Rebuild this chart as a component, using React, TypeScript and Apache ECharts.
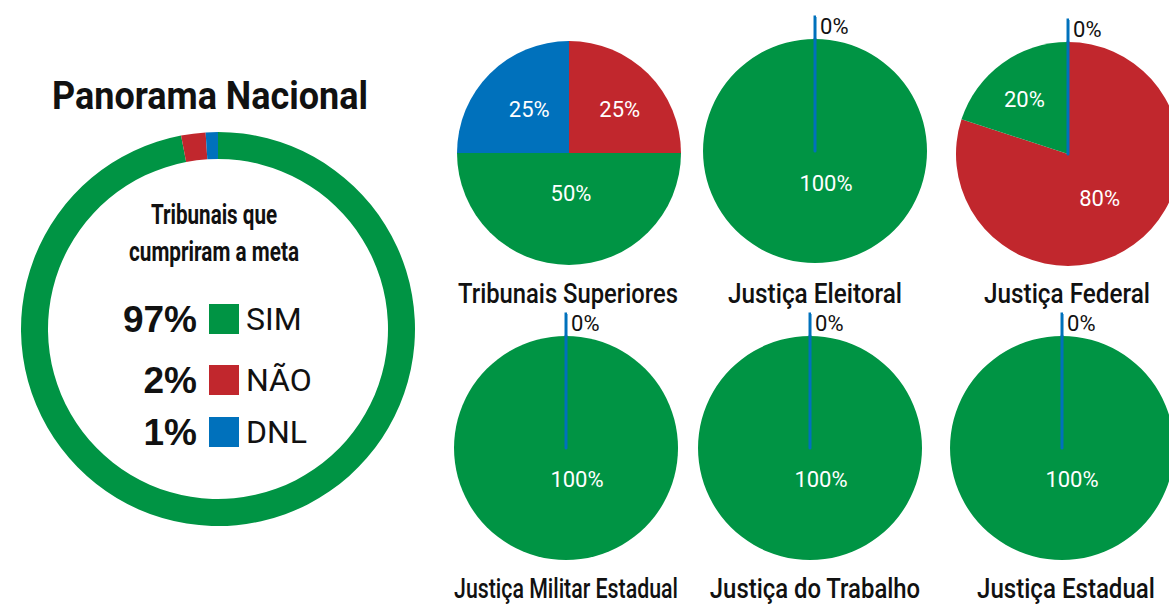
import React, { useEffect, useRef } from 'react';
import * as echarts from 'echarts';

// ---------- data ----------
const CHART_TITLE = 'Panorama Nacional';
const LEGEND_HEADING = ['Tribunais que', 'cumpriram a meta'];
const NATIONAL_NAMES = ['SIM', 'NÃO', 'DNL'];
const NATIONAL_PCT = [97, 2, 1];

const GROUPS = [
  'Tribunais Superiores',
  'Justiça Eleitoral',
  'Justiça Federal',
  'Justiça Militar Estadual',
  'Justiça do Trabalho',
  'Justiça Estadual',
];
const NAO_PCT = [25, 0, 80, 0, 0, 0];
const SIM_PCT = [50, 100, 20, 100, 100, 100];
const DNL_PCT = [25, 0, 0, 0, 0, 0];

// ---------- layout / style ----------
const COLORS: Record<string, string> = { SIM: '#009444', 'NÃO': '#C1272D', DNL: '#0071BC' };
const FONT = "Roboto, 'Liberation Sans', Arial, sans-serif";
const WIDE = "'Liberation Sans', Arial, sans-serif";
const TEXT = '#111111';

const PIE_CENTERS = [
  [569, 153], [815, 151], [1068, 154],
  [566, 448], [810, 448], [1062, 448],
];
const PIE_R = 112;
const TITLE_POS = [
  [568, 293], [815, 293], [1067, 293],
  [566, 588], [815, 588], [1066, 588],
];
// rendered widths of the condensed titles in the reference
const TITLE_WIDTHS = [220, 174, 166, 224, 211, 178];
const HEADING_WIDTH = 316;
const LEGEND_HEADING_WIDTHS = [126, 170];
// label nudges per pie, for [NÃO, SIM, DNL]
const LABEL_NUDGE = [
  [[9, -2], [2, -19], [2, -2]],
  [[0, 0], [11, -27], [0, 0]],
  [[-3, -3], [-9, -7], [0, 0]],
  [[0, 0], [11, -28], [0, 0]],
  [[0, 0], [11, -28], [0, 0]],
  [[0, 0], [10, -28], [0, 0]],
];
const LEGEND_ROWS = [318, 379, 431];

let measureCtx: CanvasRenderingContext2D | null = null;
function measure(text: string, size: number, weight: string) {
  if (!measureCtx) measureCtx = document.createElement('canvas').getContext('2d');
  if (!measureCtx) return 1;
  measureCtx.font = `${weight} ${size}px ${FONT}`;
  return measureCtx.measureText(text).width || 1;
}

function condensedText(text: string, x: number, y: number, size: number, weight: string, width: number) {
  const sx = width / measure(text, size, weight);
  return {
    type: 'text',
    x,
    y,
    scaleX: sx,
    scaleY: 1,
    style: {
      text,
      fill: TEXT,
      fontSize: size,
      fontWeight: weight,
      fontFamily: FONT,
      align: 'center',
      verticalAlign: 'middle',
    },
  };
}

function buildOption() {
  const donut = {
    type: 'pie',
    name: CHART_TITLE,
    center: [218, 329],
    radius: [170, 197],
    startAngle: 90,
    clockwise: true,
    silent: true,
    label: { show: false },
    labelLine: { show: false },
    data: NATIONAL_NAMES.map((n, i) => ({
      name: n,
      value: NATIONAL_PCT[i],
      itemStyle: { color: COLORS[n] },
    })),
  };

  const pieNames = ['NÃO', 'SIM', 'DNL'];
  const pies = GROUPS.map((g, i) => {
    const vals = [NAO_PCT[i], SIM_PCT[i], DNL_PCT[i]];
    return {
      type: 'pie',
      name: g,
      center: PIE_CENTERS[i],
      radius: PIE_R,
      startAngle: 89.99,
      clockwise: true,
      silent: true,
      avoidLabelOverlap: false,
      label: { formatter: (p: any) => `${p.value}%` },
      labelLine: { show: false },
      data: vals.map((v, k) => {
        const name = pieNames[k];
        if (v === 0 && name === 'DNL') {
          return {
            name,
            value: v,
            itemStyle: { color: COLORS.DNL, borderColor: COLORS.DNL, borderWidth: 3 },
            label: {
              show: true,
              position: 'outside',
              color: TEXT,
              fontSize: 22,
              fontFamily: FONT,
              distanceToLabelLine: 4,
              offset: [0, 9],
            },
            labelLine: {
              show: true,
              length: 22,
              length2: 1,
              lineStyle: { color: COLORS.DNL, width: 3 },
            },
          };
        }
        if (v === 0) {
          return {
            name,
            value: v,
            itemStyle: { color: COLORS[name], borderWidth: 0 },
            label: { show: false },
            labelLine: { show: false },
          };
        }
        return {
          name,
          value: v,
          itemStyle: { color: COLORS[name], borderWidth: 0 },
          label: {
            show: true,
            position: 'inside',
            color: '#ffffff',
            fontSize: 22,
            fontFamily: FONT,
            offset: LABEL_NUDGE[i][k],
          },
          labelLine: { show: false },
        };
      }),
    };
  });

  const graphics: any[] = [];
  graphics.push(condensedText(CHART_TITLE, 210, 95, 39, 'bold', HEADING_WIDTH));
  LEGEND_HEADING.forEach((t, i) => {
    graphics.push(condensedText(t, 214, 214 + i * 37, 28, 'bold', LEGEND_HEADING_WIDTHS[i]));
  });
  NATIONAL_PCT.forEach((v, i) => {
    graphics.push({
      type: 'text',
      x: 197,
      y: LEGEND_ROWS[i] + 1,
      style: {
        text: `${v}%`,
        fill: TEXT,
        fontSize: 37,
        fontWeight: 'bold',
        fontFamily: WIDE,
        align: 'right',
        verticalAlign: 'middle',
      },
    });
  });
  GROUPS.forEach((g, i) => {
    graphics.push(condensedText(g, TITLE_POS[i][0], TITLE_POS[i][1], 28, '500', TITLE_WIDTHS[i]));
  });

  return {
    animation: false,
    backgroundColor: '#ffffff',
    legend: NATIONAL_NAMES.map((n, i) => ({
      data: [n],
      left: 209,
      top: LEGEND_ROWS[i] - 15,
      orient: 'vertical',
      icon: 'rect',
      itemWidth: 30,
      itemHeight: 30,
      padding: 0,
      selectedMode: false,
      textStyle: { fontSize: 32, fontFamily: FONT, color: TEXT, padding: [0, 0, 0, 2] },
    })),
    graphic: graphics,
    series: [donut, ...pies],
  };
}

export default function App() {
  const ref = useRef<HTMLDivElement>(null);
  useEffect(() => {
    document.body.style.margin = '0';
    if (!ref.current) return;
    const chart = echarts.init(ref.current, undefined, { renderer: 'svg' });
    chart.setOption(buildOption() as any);
    return () => chart.dispose();
  }, []);
  return (
    <div
      ref={ref}
      style={{ position: 'absolute', left: 0, top: 0, width: 1169, height: 604, background: '#fff' }}
    />
  );
}
